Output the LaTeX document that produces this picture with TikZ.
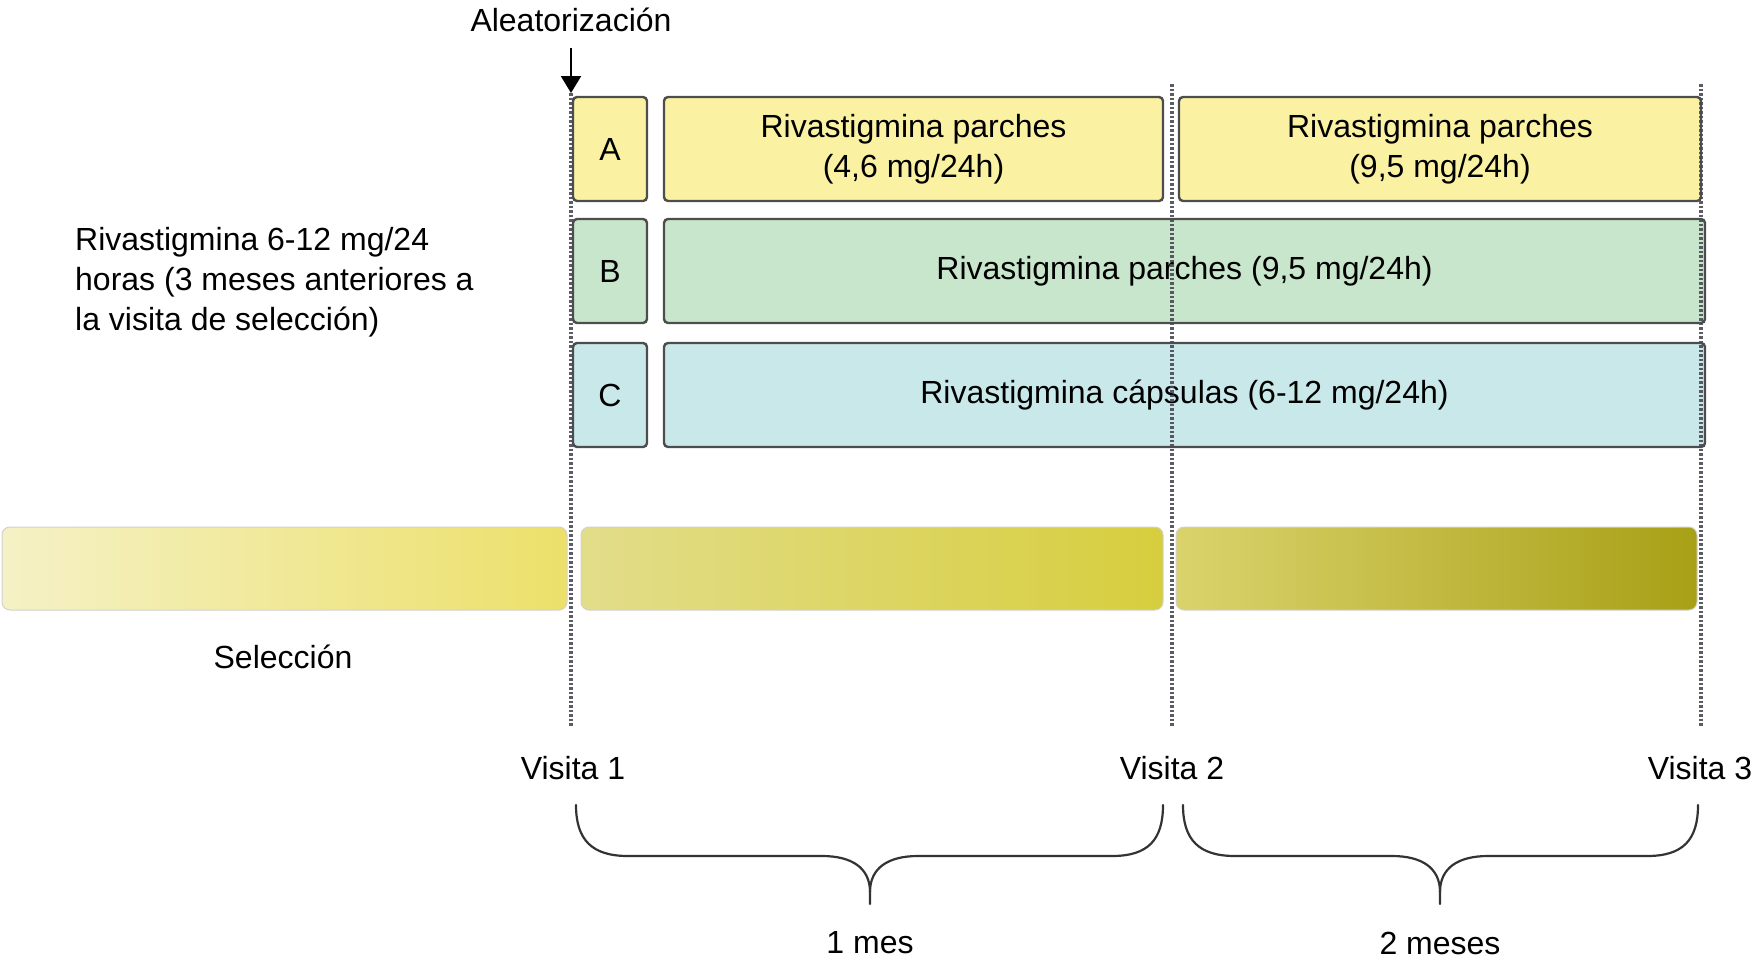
\documentclass[tikz,border=0pt]{standalone}
\usepackage{fontspec}
\setmainfont{Liberation Sans}
\usetikzlibrary{arrows.meta}
\definecolor{ya}{HTML}{FAF2A2}
\definecolor{gb}{HTML}{C8E6CB}
\definecolor{cc}{HTML}{C9E8E9}
\definecolor{bord}{HTML}{4D4D4D}
\definecolor{dotc}{HTML}{4A4A56}
\definecolor{b1l}{HTML}{F5F1C6}
\definecolor{b1r}{HTML}{ECE06A}
\definecolor{b2l}{HTML}{E2DD8A}
\definecolor{b2r}{HTML}{D7CE3E}
\definecolor{b3l}{HTML}{DAD36C}
\definecolor{b3r}{HTML}{A8A016}
\begin{document}
\begin{tikzpicture}[x=1pt,y=-1pt,
  box/.style={draw=bord, line width=2.4pt, rounded corners=4pt, inner sep=0pt, align=center, font=\fontsize{32}{40}\selectfont},
  bar/.style={draw=black!18, line width=1pt, rounded corners=8pt},
  vline/.style={draw=dotc, line width=3.5pt, dash pattern=on 2.5pt off 2pt, opacity=0.9},
  lbl/.style={font=\fontsize{32}{40}\selectfont, inner sep=0pt},
  brace/.style={draw=black!80, line width=2.2pt, line cap=round},
  arr/.style={draw=black, line width=2.2pt, -{Triangle[width=20pt,length=17pt]}}]
\useasboundingbox (0,0) rectangle (1754,962);

% gradient bars
\draw[bar, left color=b1l, right color=b1r] (2,527) rectangle (567,610);
\draw[bar, left color=b2l, right color=b2r] (581,527) rectangle (1163,610);
\draw[bar, left color=b3l, right color=b3r] (1176,527) rectangle (1697,610);

% boxes
\node[box, fill=ya, minimum width=74pt, minimum height=104pt] (a) at (610,149) {A};
\node[box, fill=ya, minimum width=499pt, minimum height=104pt] (a1) at (913.5,149) {Rivastigmina parches\\(4,6 mg/24h)};
\node[box, fill=ya, minimum width=522pt, minimum height=104pt] (a2) at (1440,149) {Rivastigmina parches\\(9,5 mg/24h)};
\node[box, fill=gb, minimum width=74pt, minimum height=104pt] (b) at (610,271) {B};
\node[box, fill=gb, minimum width=1041pt, minimum height=104pt] (b1) at (1184.5,271) {Rivastigmina parches (9,5 mg/24h)};
\node[box, fill=cc, minimum width=74pt, minimum height=104pt] (c) at (610,395) {C};
\node[box, fill=cc, minimum width=1041pt, minimum height=104pt] (c1) at (1184.5,395) {Rivastigmina cápsulas (6-12 mg/24h)};

% labels
\node[lbl] (aleat) at (571,20) {Aleatorización};
\node[lbl, align=left, anchor=west] (prev) at (75,282) {Rivastigmina 6-12 mg/24\\horas (3 meses anteriores a\\la visita de selección)};
\node[lbl] (sel) at (283,657) {Selección};
\node[lbl] (v1) at (573,768) {Visita 1};
\node[lbl] (v2) at (1172,768) {Visita 2};
\node[lbl] (v3) at (1700,768) {Visita 3};
\node[lbl] (m1) at (870,943) {1 mes};
\node[lbl] (m2) at (1440,943) {2 meses};

% dotted visit lines
\coordinate (v1t) at (571,93);
\coordinate (v1b) at (571,727);
\coordinate (v2t) at (1172,84);
\coordinate (v2b) at (1172,727);
\coordinate (v3t) at (1701,84);
\coordinate (v3b) at (1701,727);
\draw[vline] (v1t) -- (v1b);
\draw[vline] (v2t) -- (v2b);
\draw[vline] (v3t) -- (v3b);

% randomisation arrow
\coordinate (arrs) at (571,48);
\draw[arr] (arrs) -- (v1t);

% braces
\draw[brace] (576,805) .. controls (576,840) and (592,856) .. (628,856) -- (822,856) .. controls (852,856) and (870,868) .. (870,892) -- (870,904);
\draw[brace] (870,892) .. controls (870,868) and (888,856) .. (918,856) -- (1112,856) .. controls (1148,856) and (1163,840) .. (1163,805);
\draw[brace] (1183,805) .. controls (1183,840) and (1199,856) .. (1235,856) -- (1392,856) .. controls (1422,856) and (1440,868) .. (1440,892) -- (1440,904);
\draw[brace] (1440,892) .. controls (1440,868) and (1458,856) .. (1488,856) -- (1647,856) .. controls (1683,856) and (1698,840) .. (1698,805);
\end{tikzpicture}
\end{document}
